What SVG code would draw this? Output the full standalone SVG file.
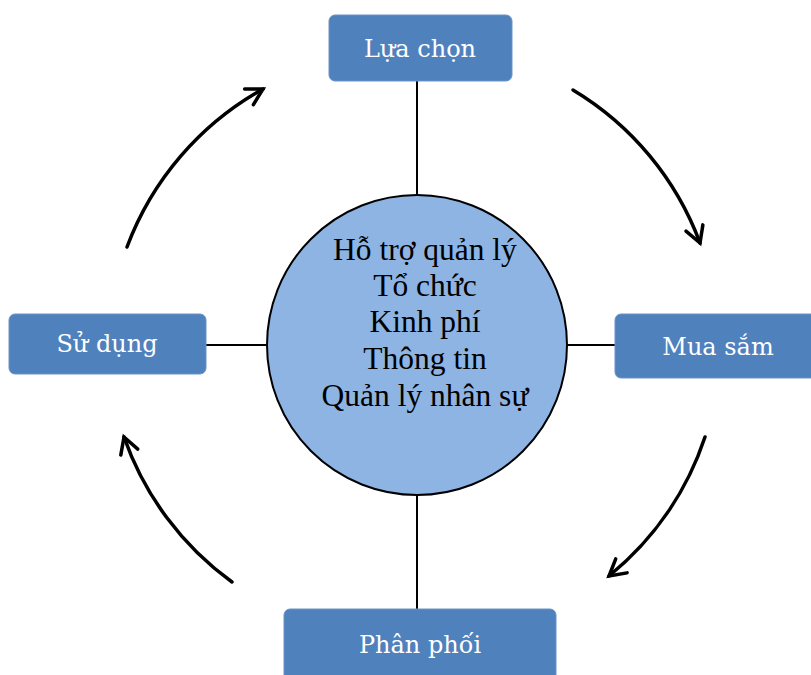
<svg xmlns="http://www.w3.org/2000/svg" width="811" height="675" viewBox="0 0 811 675">
<defs>
<style>
.box{fill:#4F81BD;stroke:#6A93C6;stroke-width:1}
.lbl{font-family:"DejaVu Serif","Liberation Serif",serif;font-size:24px;fill:#ffffff;text-anchor:middle}
.ctr{font-family:"Liberation Serif","Times New Roman",serif;font-size:31.5px;fill:#000000;text-anchor:middle}
.ln{stroke:#000;stroke-width:2;fill:none}
.arr{stroke:#000;stroke-width:3.5;fill:none;stroke-linecap:round;marker-end:url(#ah)}
</style>
<marker id="ah" markerUnits="userSpaceOnUse" markerWidth="30" markerHeight="30" refX="0" refY="0" viewBox="-20 -15 30 30" orient="auto" overflow="visible">
<path d="M-16,-9 L0,0 L-16,9" fill="none" stroke="#000" stroke-width="3.5" stroke-linecap="round" stroke-linejoin="miter"/>
</marker>
</defs>
<rect width="811" height="675" fill="#ffffff"/>
<g id="connectors">
<line class="ln" x1="417" y1="81" x2="417" y2="196"/>
<line class="ln" x1="206" y1="345" x2="267" y2="345"/>
<line class="ln" x1="567" y1="345" x2="615" y2="345"/>
<line class="ln" x1="417" y1="494" x2="417" y2="609"/>
<path class="arr" d="M573,90 A300,300 0 0 1 700,243"/>
<path class="arr" d="M705,437 A302,302 0 0 1 609,576"/>
<path class="arr" d="M232,582 A302,302 0 0 1 124,437"/>
<path class="arr" d="M127,247 A302,302 0 0 1 263,89"/>
</g>
<g id="center">
<circle cx="417" cy="345" r="150" fill="#8EB4E3" stroke="#000" stroke-width="2"/>
<text class="ctr" x="425" y="260">Hỗ trợ quản lý</text>
<text class="ctr" x="425" y="296">Tổ chức</text>
<text class="ctr" x="425" y="332">Kinh phí</text>
<text class="ctr" x="425" y="369">Thông tin</text>
<text class="ctr" x="425" y="406">Quản lý nhân sự</text>
</g>
<g id="lua-chon">
<rect class="box" x="329" y="15" width="183" height="66" rx="6"/>
<text class="lbl" x="420" y="57">Lựa chọn</text>
</g>
<g id="mua-sam">
<rect class="box" x="615" y="314" width="210" height="64" rx="6"/>
<text class="lbl" x="718" y="355">Mua sắm</text>
</g>
<g id="phan-phoi">
<rect class="box" x="284" y="609" width="272" height="76" rx="6"/>
<text class="lbl" x="420" y="653">Phân phối</text>
</g>
<g id="su-dung">
<rect class="box" x="9" y="314" width="197" height="60" rx="6"/>
<text class="lbl" x="107" y="352">Sử dụng</text>
</g>
</svg>
